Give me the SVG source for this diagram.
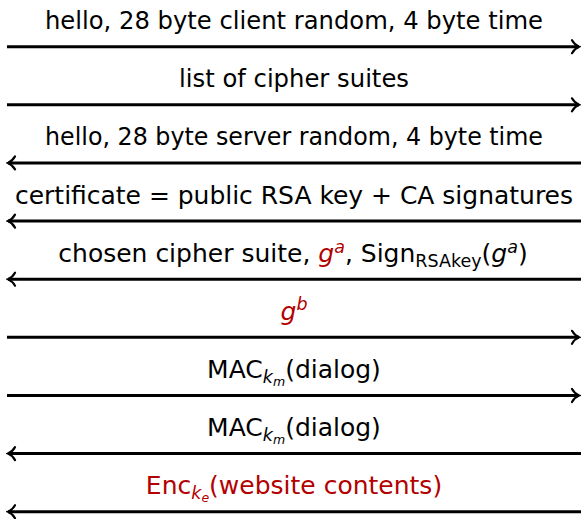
<svg xmlns="http://www.w3.org/2000/svg" width="581" height="519" viewBox="0 0 581 519">
<style>
text{font-family:"DejaVu Sans","Liberation Sans",sans-serif;font-size:25px;fill:#000;text-anchor:middle}
.r{fill:#b30000}
.i{font-style:italic}
.s{font-size:17.5px}
.msg{stroke:#000;stroke-width:3;fill:none;marker-end:url(#ah)}
</style>
<defs>
<marker id="ah" markerUnits="userSpaceOnUse" viewBox="-10 -10 12 20" refX="0" refY="0" markerWidth="12" markerHeight="20" orient="auto">
<path d="M-7,-6.5 C-5,-3 -2,-0.8 0,0 C-2,0.8 -5,3 -7,6.5" fill="none" stroke="#000" stroke-width="2.2" stroke-linecap="round"/>
</marker>
</defs>
<g id="connectors">
<line class="msg" x1="7" y1="46.7" x2="579" y2="46.7"/>
<line class="msg" x1="7" y1="104.8" x2="579" y2="104.8"/>
<line class="msg" x1="581" y1="162.9" x2="8" y2="162.9"/>
<line class="msg" x1="581" y1="221.1" x2="8" y2="221.1"/>
<line class="msg" x1="581" y1="279.2" x2="8" y2="279.2"/>
<line class="msg" x1="7" y1="337.3" x2="579" y2="337.3"/>
<line class="msg" x1="7" y1="395.5" x2="579" y2="395.5"/>
<line class="msg" x1="581" y1="453.6" x2="8" y2="453.6"/>
<line class="msg" x1="581" y1="511.7" x2="8" y2="511.7"/>
</g>
<g id="label1"><text x="294" y="29.2" textLength="498" lengthAdjust="spacingAndGlyphs">hello, 28 byte client random, 4 byte time</text></g>
<g id="label2"><text x="294" y="87.3" textLength="230" lengthAdjust="spacingAndGlyphs">list of cipher suites</text></g>
<g id="label3"><text x="294" y="145.4" textLength="498" lengthAdjust="spacingAndGlyphs">hello, 28 byte server random, 4 byte time</text></g>
<g id="label4"><text x="294" y="203.6" textLength="558" lengthAdjust="spacing">certificate = public RSA key + CA signatures</text></g>
<g id="label5"><text x="293" y="261.7">chosen cipher suite, <tspan class="r i">g</tspan><tspan class="r i s" dy="-9">a</tspan><tspan dy="9">, Sign</tspan><tspan class="s" dy="5">RSAkey</tspan><tspan dy="-5">(</tspan><tspan class="i">g</tspan><tspan class="i s" dy="-9">a</tspan><tspan dy="9">)</tspan></text></g>
<g id="label6"><text x="294" y="319.8"><tspan class="r i">g</tspan><tspan class="r i s" dy="-10">b</tspan></text></g>
<g id="label7"><text x="294" y="378">MAC<tspan class="i s" dy="5">k</tspan><tspan class="i" style="font-size:12.5px" dy="3">m</tspan><tspan dy="-8">(dialog)</tspan></text></g>
<g id="label8"><text x="294" y="436.1">MAC<tspan class="i s" dy="5">k</tspan><tspan class="i" style="font-size:12.5px" dy="3">m</tspan><tspan dy="-8">(dialog)</tspan></text></g>
<g id="label9"><text x="294" y="494.2" class="r">Enc<tspan class="i s" dy="5">k</tspan><tspan class="i" style="font-size:12.5px" dy="3">e</tspan><tspan dy="-8">(website contents)</tspan></text></g>
</svg>
